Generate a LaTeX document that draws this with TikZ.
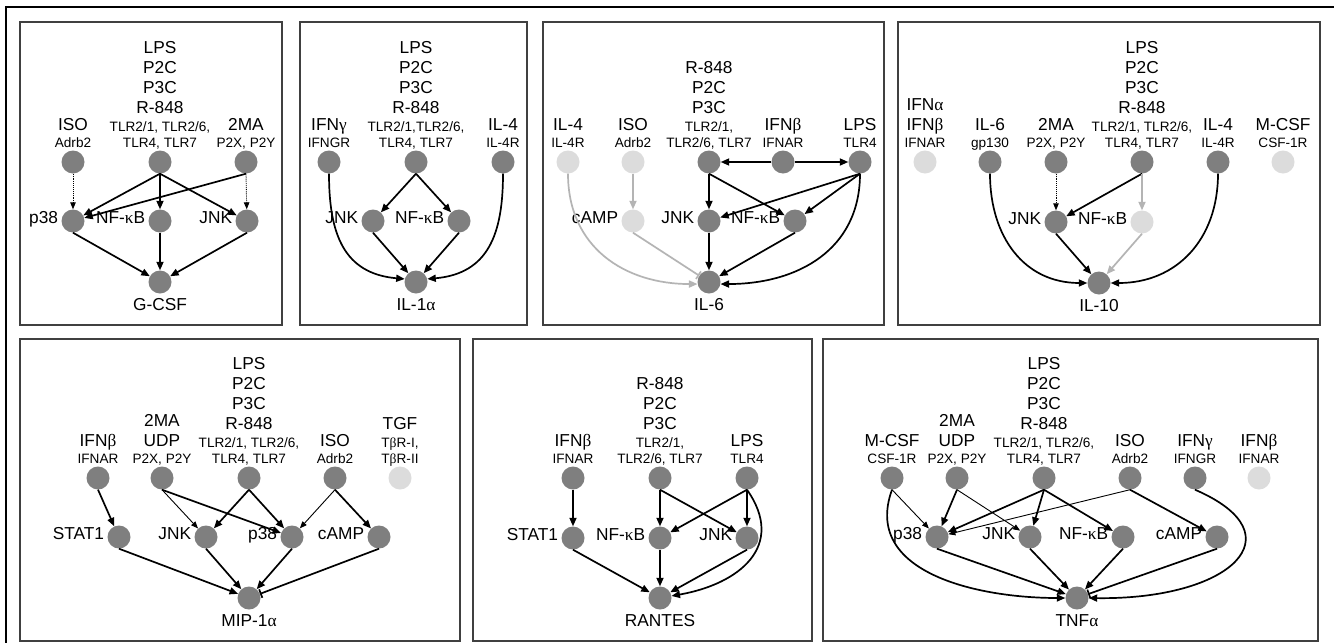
\documentclass[tikz,border=0pt]{standalone}
\usepackage{fontspec}
\setmainfont{Liberation Sans}
\newfontfamily\greekf{Liberation Serif}
\usetikzlibrary{arrows.meta}
\newcommand\gk[1]{{\greekf #1}}
\newcommand\bigf{\fontsize{17.3}{20}\selectfont}
\newcommand\smlf{\fontsize{13.6}{16}\selectfont}
\newcommand\bt[4]{\node[bigt] (#1) at (#2,#3) {#4};}
\newcommand\st[4]{\node[smlt] (#1) at (#2,#3) {#4};}
\definecolor{ndark}{HTML}{7F7F7F}
\definecolor{nlight}{HTML}{DCDCDC}
\definecolor{garr}{HTML}{B4B4B4}
\definecolor{framec}{HTML}{404040}
\tikzset{
  mol/.style={circle, fill=ndark, draw=none, inner sep=0pt, minimum size=23pt},
  off/.style={mol, fill=nlight},
  bigt/.style={font=\bigf, inner sep=0pt, anchor=base},
  smlt/.style={font=\smlf, inner sep=0pt, anchor=base},
  midlbl/.style={label={[font=\bigf, inner sep=0pt, anchor=mid east]left:#1}},
  act/.style={line width=1.7pt, -{Triangle[length=8.5pt,width=7pt]}},
  weak/.style={line width=0.9pt, -{Triangle[length=7pt,width=5.5pt]}},
  dots/.style={weak, densely dotted},
  inh/.style={line width=1.7pt, -{Bar[width=9pt]}},
  faded/.style={color=garr},
  panel/.style={draw=framec, line width=1.5pt}
}
\begin{document}
\begin{tikzpicture}[x=1pt, y=-1pt, label distance=3pt]
\useasboundingbox (0,0) rectangle (1334,643);
\fill[white] (0,0) rectangle (1334,643);
% outer frame
\draw[line width=1.5pt] (1334,7) -- (6,7) -- (6,643);
% panel frames
\draw[panel] (20,22) rectangle (282,325);
\draw[panel] (300,22) rectangle (527,325);
\draw[panel] (543,22) rectangle (884,325);
\draw[panel] (898,22) rectangle (1320,325);
\draw[panel] (20,339) rectangle (460,641);
\draw[panel] (473,339) rectangle (812,641);
\draw[panel] (823,339) rectangle (1318,641);

% ---------- G-CSF ----------
\bt{a1}{160}{53}{LPS} \bt{a2}{160}{73}{P2C} \bt{a3}{160}{93}{P3C} \bt{a4}{160}{113}{R-848}
\st{a5}{160}{131}{TLR2/1, TLR2/6,} \st{a6}{160}{147}{TLR4, TLR7}
\bt{a7}{73}{130}{ISO} \st{a8}{73}{147}{Adrb2}
\bt{a9}{246}{130}{2MA} \st{a10}{246}{147}{P2X, P2Y}
\node[mol] (p1iso) at (73,162) {};
\node[mol] (p1tlr) at (160,162) {};
\node[mol] (p1ma) at (246,162) {};
\node[mol, midlbl=p38] (p1p38) at (73,221) {};
\node[mol, midlbl={NF-\gk{κ}B}] (p1nfkb) at (160,221) {};
\node[mol, midlbl=JNK] (p1jnk) at (247,221) {};
\node[mol] (p1out) at (160,282) {};
\bt{a11}{160}{310}{G-CSF}
\draw[dots] (p1iso.south) -- (p1p38);
\draw[act] (p1ma.south) -- (p1p38);
\draw[dots] (p1ma.south) -- (p1jnk);
\draw[act] (p1tlr.south) -- (p1p38);
\draw[act] (p1tlr.south) -- (p1nfkb);
\draw[act] (p1tlr.south) -- (p1jnk);
\draw[act] (p1p38.south) -- (p1out);
\draw[act] (p1nfkb.south) -- (p1out);
\draw[act] (p1jnk.south) -- (p1out);

% ---------- IL-1alpha ----------
\bt{b1}{416}{53}{LPS} \bt{b2}{416}{73}{P2C} \bt{b3}{416}{93}{P3C} \bt{b4}{416}{113}{R-848}
\st{b5}{416}{131}{TLR2/1,TLR2/6,} \st{b6}{416}{147}{TLR4, TLR7}
\bt{b7}{329}{130}{IFN\gk{γ}} \st{b8}{329}{147}{IFNGR}
\bt{b9}{503}{130}{IL-4} \st{b10}{503}{147}{IL-4R}
\node[mol] (p2ifng) at (329,162) {};
\node[mol] (p2tlr) at (416,162) {};
\node[mol] (p2il4) at (503,162) {};
\node[mol, midlbl=JNK] (p2jnk) at (373,221) {};
\node[mol, midlbl={NF-\gk{κ}B}] (p2nfkb) at (459,221) {};
\node[mol] (p2out) at (416,282) {};
\bt{b11}{416}{310}{IL-1\gk{α}}
\draw[act] (p2ifng.south) to[out=-90, in=175, looseness=1.2] (p2out.165);
\draw[act] (p2il4.south) to[out=-90, in=5, looseness=1.2] (p2out.15);
\draw[act] (p2tlr.south) -- (p2jnk);
\draw[act] (p2tlr.south) -- (p2nfkb);
\draw[act] (p2jnk.south) -- (p2out);
\draw[act] (p2nfkb.south) -- (p2out);

% ---------- IL-6 ----------
\bt{c1}{709}{73}{R-848} \bt{c2}{709}{93}{P2C} \bt{c3}{709}{113}{P3C}
\st{c4}{709}{131}{TLR2/1,} \st{c5}{709}{147}{TLR2/6, TLR7}
\bt{c6}{568}{130}{IL-4} \st{c7}{568}{147}{IL-4R}
\bt{c8}{633}{130}{ISO} \st{c9}{633}{147}{Adrb2}
\bt{c10}{783}{130}{IFN\gk{β}} \st{c11}{783}{147}{IFNAR}
\bt{c12}{860}{130}{LPS} \st{c13}{860}{147}{TLR4}
\node[off] (p3il4) at (568,162) {};
\node[off] (p3iso) at (633,162) {};
\node[mol] (p3tlr) at (709,162) {};
\node[mol] (p3ifnb) at (783,162) {};
\node[mol] (p3lps) at (860,162) {};
\node[off, midlbl=cAMP] (p3camp) at (633,221) {};
\node[mol, midlbl=JNK] (p3jnk) at (709,221) {};
\node[mol, midlbl={NF-\gk{κ}B}] (p3nfkb) at (795,221) {};
\node[mol] (p3out) at (709,282) {};
\bt{c14}{709}{310}{IL-6}
\draw[act, faded] (p3il4.south) to[out=-90, in=180, looseness=1.1] (p3out.190);
\draw[act, faded] (p3iso.south) -- (p3camp);
\draw[inh, faded] (p3camp.south) -- (p3out);
\draw[act] (p3ifnb.west) -- (p3tlr);
\draw[act] (p3ifnb.east) -- (p3lps);
\draw[act] (p3tlr.south) -- (p3jnk);
\draw[act] (p3tlr.south) -- (p3nfkb);
\draw[act] (p3lps.south) -- (p3jnk);
\draw[act] (p3lps.south) -- (p3nfkb);
\draw[act] (p3lps.south) to[out=-90, in=0, looseness=1.1] (p3out.-10);
\draw[act] (p3jnk.south) -- (p3out);
\draw[act] (p3nfkb.south) -- (p3out);

% ---------- IL-10 ----------
\bt{d1}{1142}{53}{LPS} \bt{d2}{1142}{73}{P2C} \bt{d3}{1142}{93}{P3C} \bt{d4}{1142}{113}{R-848}
\st{d5}{1142}{131}{TLR2/1, TLR2/6,} \st{d6}{1142}{147}{TLR4, TLR7}
\bt{d7}{925}{110}{IFN\gk{α}} \bt{d8}{925}{130}{IFN\gk{β}} \st{d9}{925}{147}{IFNAR}
\bt{d10}{990}{130}{IL-6} \st{d11}{990}{147}{gp130}
\bt{d12}{1056}{130}{2MA} \st{d13}{1056}{147}{P2X, P2Y}
\bt{d14}{1218}{130}{IL-4} \st{d15}{1218}{147}{IL-4R}
\bt{d16}{1283}{130}{M-CSF} \st{d17}{1283}{147}{CSF-1R}
\node[off] (p4ifn) at (925,162) {};
\node[mol] (p4il6) at (990,162) {};
\node[mol] (p4ma) at (1056,162) {};
\node[mol] (p4tlr) at (1142,162) {};
\node[mol] (p4il4) at (1218,162) {};
\node[off] (p4mcsf) at (1283,162) {};
\node[mol, midlbl=JNK] (p4jnk) at (1056,222) {};
\node[off, midlbl={NF-\gk{κ}B}] (p4nfkb) at (1142,222) {};
\node[mol] (p4out) at (1099,283) {};
\bt{d18}{1099}{311}{IL-10}
\draw[act] (p4il6.south) to[out=-90, in=180, looseness=1.1] (p4out.west);
\draw[act] (p4il4.south) to[out=-90, in=0, looseness=1.1] (p4out.east);
\draw[dots] (p4ma.south) -- (p4jnk);
\draw[act] (p4tlr.south) -- (p4jnk);
\draw[act, faded] (p4tlr.south) -- (p4nfkb);
\draw[act] (p4jnk.south) -- (p4out);
\draw[act, faded] (p4nfkb.south) -- (p4out);

% ---------- MIP-1alpha ----------
\bt{e1}{249}{369}{LPS} \bt{e2}{249}{389}{P2C} \bt{e3}{249}{409}{P3C} \bt{e4}{249}{429}{R-848}
\st{e5}{249}{447}{TLR2/1, TLR2/6,} \st{e6}{249}{463}{TLR4, TLR7}
\bt{e7}{98}{446}{IFN\gk{β}} \st{e8}{98}{463}{IFNAR}
\bt{e9}{162}{426}{2MA} \bt{e10}{162}{446}{UDP} \st{e11}{162}{463}{P2X, P2Y}
\bt{e12}{335}{446}{ISO} \st{e13}{335}{463}{Adrb2}
\bt{e14}{400}{429}{TGF} \st{e15}{400}{447}{T\gk{β}R-I,} \st{e16}{400}{463}{T\gk{β}R-II}
\node[mol] (p5ifnb) at (98,478) {};
\node[mol] (p5ma) at (162,478) {};
\node[mol] (p5tlr) at (249,478) {};
\node[mol] (p5iso) at (335,478) {};
\node[off] (p5tgf) at (400,478) {};
\node[mol, midlbl=STAT1] (p5stat) at (119,537) {};
\node[mol, midlbl=JNK] (p5jnk) at (206,537) {};
\node[mol, midlbl=p38] (p5p38) at (292,537) {};
\node[mol, midlbl=cAMP] (p5camp) at (379,537) {};
\node[mol] (p5out) at (249,598) {};
\bt{e17}{249}{626}{MIP-1\gk{α}}
\draw[act] (p5ifnb.south) -- (p5stat);
\draw[weak] (p5ma.south) -- (p5jnk);
\draw[act] (p5ma.south) -- (p5p38);
\draw[act] (p5tlr.south) -- (p5jnk);
\draw[act] (p5tlr.south) -- (p5p38);
\draw[weak] (p5iso.south) -- (p5p38);
\draw[act] (p5iso.south) -- (p5camp);
\draw[act] (p5stat.south) -- (p5out);
\draw[act] (p5jnk.south) -- (p5out);
\draw[act] (p5p38.south) -- (p5out);
\draw[inh] (p5camp.south) -- (p5out);

% ---------- RANTES ----------
\bt{f1}{660}{389}{R-848} \bt{f2}{660}{409}{P2C} \bt{f3}{660}{429}{P3C}
\st{f4}{660}{447}{TLR2/1,} \st{f5}{660}{463}{TLR2/6, TLR7}
\bt{f6}{573}{446}{IFN\gk{β}} \st{f7}{573}{463}{IFNAR}
\bt{f8}{747}{446}{LPS} \st{f9}{747}{463}{TLR4}
\node[mol] (p6ifnb) at (573,478) {};
\node[mol] (p6tlr) at (660,478) {};
\node[mol] (p6lps) at (747,478) {};
\node[mol, midlbl=STAT1] (p6stat) at (573,538) {};
\node[mol, midlbl={NF-\gk{κ}B}] (p6nfkb) at (660,538) {};
\node[mol, midlbl=JNK] (p6jnk) at (747,538) {};
\node[mol] (p6out) at (660,598) {};
\bt{f10}{660}{626}{RANTES}
\draw[act] (p6ifnb.south) -- (p6stat);
\draw[act] (p6tlr.south) -- (p6nfkb);
\draw[act] (p6tlr.south) -- (p6jnk);
\draw[act] (p6lps.south) -- (p6nfkb);
\draw[act] (p6lps.south) -- (p6jnk);
\draw[act] (p6lps.south) to[out=-55, in=10, looseness=1.35] (p6out.10);
\draw[act] (p6stat.south) -- (p6out);
\draw[act] (p6nfkb.south) -- (p6out);
\draw[act] (p6jnk.south) -- (p6out);

% ---------- TNFalpha ----------
\bt{g1}{1044}{369}{LPS} \bt{g2}{1044}{389}{P2C} \bt{g3}{1044}{409}{P3C} \bt{g4}{1044}{429}{R-848}
\st{g5}{1044}{447}{TLR2/1, TLR2/6,} \st{g6}{1044}{463}{TLR4, TLR7}
\bt{g7}{892}{446}{M-CSF} \st{g8}{892}{463}{CSF-1R}
\bt{g9}{957}{426}{2MA} \bt{g10}{957}{446}{UDP} \st{g11}{957}{463}{P2X, P2Y}
\bt{g12}{1130}{446}{ISO} \st{g13}{1130}{463}{Adrb2}
\bt{g14}{1195}{446}{IFN\gk{γ}} \st{g15}{1195}{463}{IFNGR}
\bt{g16}{1259}{446}{IFN\gk{β}} \st{g17}{1259}{463}{IFNAR}
\node[mol] (p7mcsf) at (892,478) {};
\node[mol] (p7ma) at (957,478) {};
\node[mol] (p7tlr) at (1044,478) {};
\node[mol] (p7iso) at (1130,478) {};
\node[mol] (p7ifng) at (1195,478) {};
\node[off] (p7ifnb) at (1259,478) {};
\node[mol, midlbl=p38] (p7p38) at (937,537) {};
\node[mol, midlbl=JNK] (p7jnk) at (1030,537) {};
\node[mol, midlbl={NF-\gk{κ}B}] (p7nfkb) at (1123,537) {};
\node[mol, midlbl=cAMP] (p7camp) at (1217,537) {};
\node[mol] (p7out) at (1077,598) {};
\bt{g18}{1077}{626}{TNF\gk{α}}
\draw[act] (p7mcsf.south) to[out=-110, in=180, looseness=1.1] (p7out.west);
\draw[weak] (p7mcsf.south) -- (p7p38);
\draw[act] (p7ma.south) -- (p7p38);
\draw[weak] (p7ma.south) -- (p7jnk);
\draw[act] (p7tlr.south) -- (p7p38);
\draw[act] (p7tlr.south) -- (p7jnk);
\draw[act] (p7tlr.south) -- (p7nfkb);
\draw[weak] (p7iso.south) -- (p7p38);
\draw[act] (p7iso.south) -- (p7camp);
\draw[act] (p7ifng.south) .. controls (1300,535) and (1230,600) .. (p7out.east);
\draw[act] (p7p38.south) -- (p7out);
\draw[act] (p7jnk.south) -- (p7out);
\draw[act] (p7nfkb.south) -- (p7out);
\draw[inh] (p7camp.south) -- (p7out);
\end{tikzpicture}
\end{document}
